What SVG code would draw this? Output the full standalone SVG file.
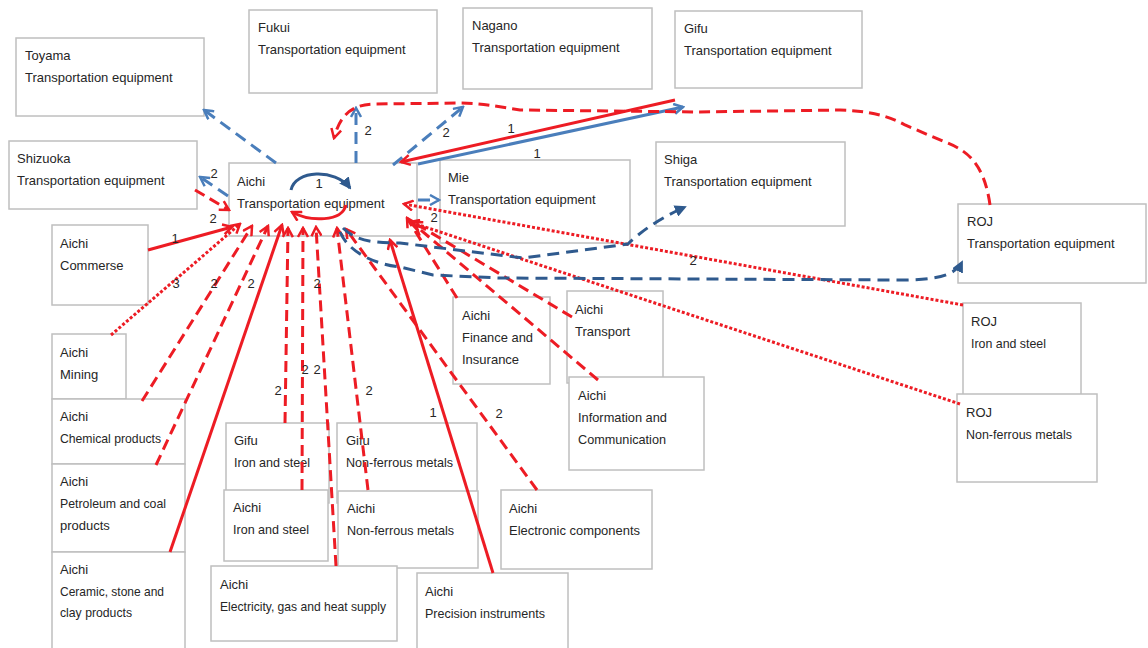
<svg xmlns="http://www.w3.org/2000/svg" width="1148" height="648" viewBox="0 0 1148 648">
<style>
.box{fill:#fff;stroke:#BFBFBF;stroke-width:1.5}
.t{font-family:"Liberation Sans",Arial,sans-serif;font-size:13px;fill:#262626}
.lb{font-family:"Liberation Sans",Arial,sans-serif;font-size:13px;fill:#262626;text-anchor:middle}
.rs{fill:none;stroke:#ED1C24;stroke-width:3}
.rd{fill:none;stroke:#ED1C24;stroke-width:3;stroke-dasharray:11 6}
.rdot{fill:none;stroke:#ED1C24;stroke-width:3;stroke-dasharray:3 2}
.bs{fill:none;stroke:#4A7EBB;stroke-width:3}
.bd{fill:none;stroke:#4A7EBB;stroke-width:3;stroke-dasharray:12 7}
.dbd{fill:none;stroke:#2F5A8E;stroke-width:3;stroke-dasharray:12 7}
.dbs{fill:none;stroke:#2F5A8E;stroke-width:3}
</style>
<defs>
<marker id="ar" viewBox="0 0 12 12" refX="10" refY="6" markerWidth="12" markerHeight="12" markerUnits="userSpaceOnUse" orient="auto">
<path d="M1,1 L10,6 L1,11" fill="none" stroke="#ED1C24" stroke-width="2.5"/>
</marker>
<marker id="ab" viewBox="0 0 12 12" refX="10" refY="6" markerWidth="12" markerHeight="12" markerUnits="userSpaceOnUse" orient="auto">
<path d="M1,1 L10,6 L1,11" fill="none" stroke="#4A7EBB" stroke-width="2.5"/>
</marker>
<marker id="adb" viewBox="0 0 12 12" refX="10" refY="6" markerWidth="12" markerHeight="12" markerUnits="userSpaceOnUse" orient="auto">
<path d="M0,0 L12,6 L0,12 Z" fill="#2F5A8E"/>
</marker>
</defs>

<g id="toyama"><rect class="box" x="16" y="38" width="188" height="78"/><text class="t" x="25" y="60">Toyama</text><text class="t" x="25" y="82">Transportation equipment</text></g>
<g id="fukui"><rect class="box" x="249" y="10" width="188" height="83"/><text class="t" x="258" y="32">Fukui</text><text class="t" x="258" y="54">Transportation equipment</text></g>
<g id="nagano"><rect class="box" x="463" y="8" width="189" height="81"/><text class="t" x="472" y="30">Nagano</text><text class="t" x="472" y="52">Transportation equipment</text></g>
<g id="gifu-te"><rect class="box" x="675" y="11" width="187" height="77"/><text class="t" x="684" y="33">Gifu</text><text class="t" x="684" y="55">Transportation equipment</text></g>
<g id="shizuoka"><rect class="box" x="9" y="141" width="188" height="68"/><text class="t" x="17" y="163">Shizuoka</text><text class="t" x="17" y="185">Transportation equipment</text></g>
<g id="aichi-te"><rect class="box" x="229" y="163" width="188" height="73"/><text class="t" x="237" y="186">Aichi</text><text class="t" x="237" y="208">Transportation equipment</text></g>
<g id="mie"><rect class="box" x="440" y="160" width="190" height="83"/><text class="t" x="448" y="182">Mie</text><text class="t" x="448" y="204">Transportation equipment</text></g>
<g id="shiga"><rect class="box" x="656" y="142" width="189" height="84"/><text class="t" x="664" y="164">Shiga</text><text class="t" x="664" y="186">Transportation equipment</text></g>
<g id="roj-te"><rect class="box" x="958" y="204" width="188" height="79"/><text class="t" x="967" y="226">ROJ</text><text class="t" x="967" y="248">Transportation equipment</text></g>
<g id="aichi-commerse"><rect class="box" x="52" y="225" width="96" height="80"/><text class="t" x="60" y="248">Aichi</text><text class="t" x="60" y="270">Commerse</text></g>
<g id="aichi-mining"><rect class="box" x="52" y="334" width="74" height="65"/><text class="t" x="60" y="357">Aichi</text><text class="t" x="60" y="379">Mining</text></g>
<g id="aichi-chemical"><rect class="box" x="52" y="399" width="133" height="65"/><text class="t" x="60" y="421">Aichi</text><text class="t" x="60" y="443" textLength="101" lengthAdjust="spacingAndGlyphs">Chemical products</text></g>
<g id="aichi-petroleum"><rect class="box" x="52" y="464" width="133" height="88"/><text class="t" x="60" y="486">Aichi</text><text class="t" x="60" y="508" textLength="106" lengthAdjust="spacingAndGlyphs">Petroleum and coal</text><text class="t" x="60" y="530">products</text></g>
<g id="aichi-ceramic"><rect class="box" x="52" y="552" width="133" height="100"/><text class="t" x="60" y="574">Aichi</text><text class="t" x="60" y="596" textLength="104" lengthAdjust="spacingAndGlyphs">Ceramic, stone and</text><text class="t" x="60" y="617" textLength="72" lengthAdjust="spacingAndGlyphs">clay products</text></g>
<g id="gifu-iron"><rect class="box" x="226" y="423" width="103" height="80"/><text class="t" x="234" y="445">Gifu</text><text class="t" x="234" y="467" textLength="76" lengthAdjust="spacingAndGlyphs">Iron and steel</text></g>
<g id="gifu-nonferrous"><rect class="box" x="337" y="423" width="140" height="80"/><text class="t" x="346" y="445">Gifu</text><text class="t" x="346" y="467" textLength="107" lengthAdjust="spacingAndGlyphs">Non-ferrous metals</text></g>
<g id="aichi-iron"><rect class="box" x="224" y="490" width="104" height="71"/><text class="t" x="233" y="512">Aichi</text><text class="t" x="233" y="534" textLength="76" lengthAdjust="spacingAndGlyphs">Iron and steel</text></g>
<g id="aichi-nonferrous"><rect class="box" x="338" y="491" width="140" height="77"/><text class="t" x="347" y="513">Aichi</text><text class="t" x="347" y="535" textLength="107" lengthAdjust="spacingAndGlyphs">Non-ferrous metals</text></g>
<g id="aichi-electricity"><rect class="box" x="211" y="566" width="186" height="75"/><text class="t" x="220" y="589">Aichi</text><text class="t" x="220" y="611" textLength="166" lengthAdjust="spacingAndGlyphs">Electricity, gas and heat supply</text></g>
<g id="aichi-precision"><rect class="box" x="417" y="573" width="151" height="80"/><text class="t" x="425" y="596">Aichi</text><text class="t" x="425" y="618" textLength="120" lengthAdjust="spacingAndGlyphs">Precision instruments</text></g>
<g id="aichi-electronic"><rect class="box" x="501" y="490" width="151" height="79"/><text class="t" x="509" y="513">Aichi</text><text class="t" x="509" y="535" textLength="131" lengthAdjust="spacingAndGlyphs">Electronic  components</text></g>
<g id="aichi-finance"><rect class="box" x="453" y="297" width="97" height="87"/><text class="t" x="462" y="320">Aichi</text><text class="t" x="462" y="342" textLength="71" lengthAdjust="spacingAndGlyphs">Finance  and</text><text class="t" x="462" y="364">Insurance</text></g>
<g id="aichi-transport"><rect class="box" x="567" y="291" width="96" height="92"/><text class="t" x="575" y="314">Aichi</text><text class="t" x="575" y="336">Transport</text></g>
<g id="aichi-information"><rect class="box" x="569" y="377" width="135" height="93"/><text class="t" x="578" y="400">Aichi</text><text class="t" x="578" y="422" textLength="89" lengthAdjust="spacingAndGlyphs">Information and</text><text class="t" x="578" y="444" textLength="88" lengthAdjust="spacingAndGlyphs">Communication</text></g>
<g id="roj-iron"><rect class="box" x="963" y="303" width="118" height="92"/><text class="t" x="971" y="326">ROJ</text><text class="t" x="971" y="348" textLength="75" lengthAdjust="spacingAndGlyphs">Iron and steel</text></g>
<g id="roj-nonferrous"><rect class="box" x="957" y="394" width="140" height="88"/><text class="t" x="966" y="417">ROJ</text><text class="t" x="966" y="439" textLength="106" lengthAdjust="spacingAndGlyphs">Non-ferrous metals</text></g>

<g id="connectors">
<path class="bd" d="M276,163 L204,110" marker-end="url(#ab)"/>
<path class="bd" d="M356,163 L356,108" marker-end="url(#ab)"/>
<path class="bd" d="M393,165 L463,107" marker-end="url(#ab)"/>
<path class="bd" d="M228,196 L200,177" marker-end="url(#ab)"/>
<path class="bd" d="M418,200 L439,200" marker-end="url(#ab)"/>
<path class="bs" d="M418,164 L683,107" marker-end="url(#ab)"/>
<path class="rs" d="M675,100 L401,162" marker-end="url(#ar)"/>
<path class="rd" d="M990,205 C984,162 966,150 945,142 L905,125 C885,114 865,111 840,110 L700,112 L520,110 C495,106 480,103 460,103 L375,104 C352,104 340,115 334,138" marker-end="url(#ar)"/>
<path class="rd" d="M195,190 L229,210" marker-end="url(#ar)"/>
<path class="rs" d="M148,250 L232,227" marker-end="url(#ar)"/>
<path class="rdot" d="M111,335 L240,224" marker-end="url(#ar)"/>
<path class="rd" d="M142,401 L252,226" marker-end="url(#ar)"/>
<path class="rd" d="M156,465 L268,226" marker-end="url(#ar)"/>
<path class="rs" d="M170,552 L282,225" marker-end="url(#ar)"/>
<path class="rd" d="M285,423 L288,228" marker-end="url(#ar)"/>
<path class="rd" d="M302,490 L303,228" marker-end="url(#ar)"/>
<path class="rd" d="M336,566 L316,227" marker-end="url(#ar)"/>
<path class="rd" d="M368,490 L337,228" marker-end="url(#ar)"/>
<path class="rd" d="M457,298 L407,218" marker-end="url(#ar)"/>
<path class="rd" d="M572,317 L413,222" marker-end="url(#ar)"/>
<path class="rd" d="M598,380 L416,226" marker-end="url(#ar)"/>
<path class="rd" d="M537,490 L346,229" marker-end="url(#ar)"/>
<path class="rs" d="M493,573 L390,240" marker-end="url(#ar)"/>
<path class="rdot" d="M963,305 L404,204" marker-end="url(#ar)"/>
<path class="rdot" d="M960,404 L410,222" marker-end="url(#ar)"/>
<path class="dbd" d="M343,228 C355,240 370,243 400,243 L523,258 L628,244 C640,232 660,218 685,207" marker-end="url(#adb)"/>
<path class="dbd" d="M340,232 C350,255 380,265 400,267 L433,275 L500,278 L900,280 C935,280 955,276 962,262" marker-end="url(#adb)"/>
<path class="dbs" d="M291,190 C295,170 335,168 350,188" marker-end="url(#adb)"/>
<path class="rs" d="M346,205 C342,222 310,222 292,212" marker-end="url(#ar)"/>
</g>

<g id="labels">
<text class="lb" x="368" y="135">2</text>
<text class="lb" x="446" y="137">2</text>
<text class="lb" x="214" y="178">2</text>
<text class="lb" x="213" y="223">2</text>
<text class="lb" x="175" y="243">1</text>
<text class="lb" x="176" y="288">3</text>
<text class="lb" x="214" y="288">2</text>
<text class="lb" x="251" y="288">2</text>
<text class="lb" x="317" y="288">2</text>
<text class="lb" x="278" y="395">2</text>
<text class="lb" x="305" y="374">2</text>
<text class="lb" x="317" y="374">2</text>
<text class="lb" x="369" y="395">2</text>
<text class="lb" x="433" y="417">1</text>
<text class="lb" x="499" y="418">2</text>
<text class="lb" x="434" y="222">2</text>
<text class="lb" x="693" y="265">2</text>
<text class="lb" x="511" y="133">1</text>
<text class="lb" x="537" y="158">1</text>
<text class="lb" x="319" y="188">1</text>
</g>
</svg>
